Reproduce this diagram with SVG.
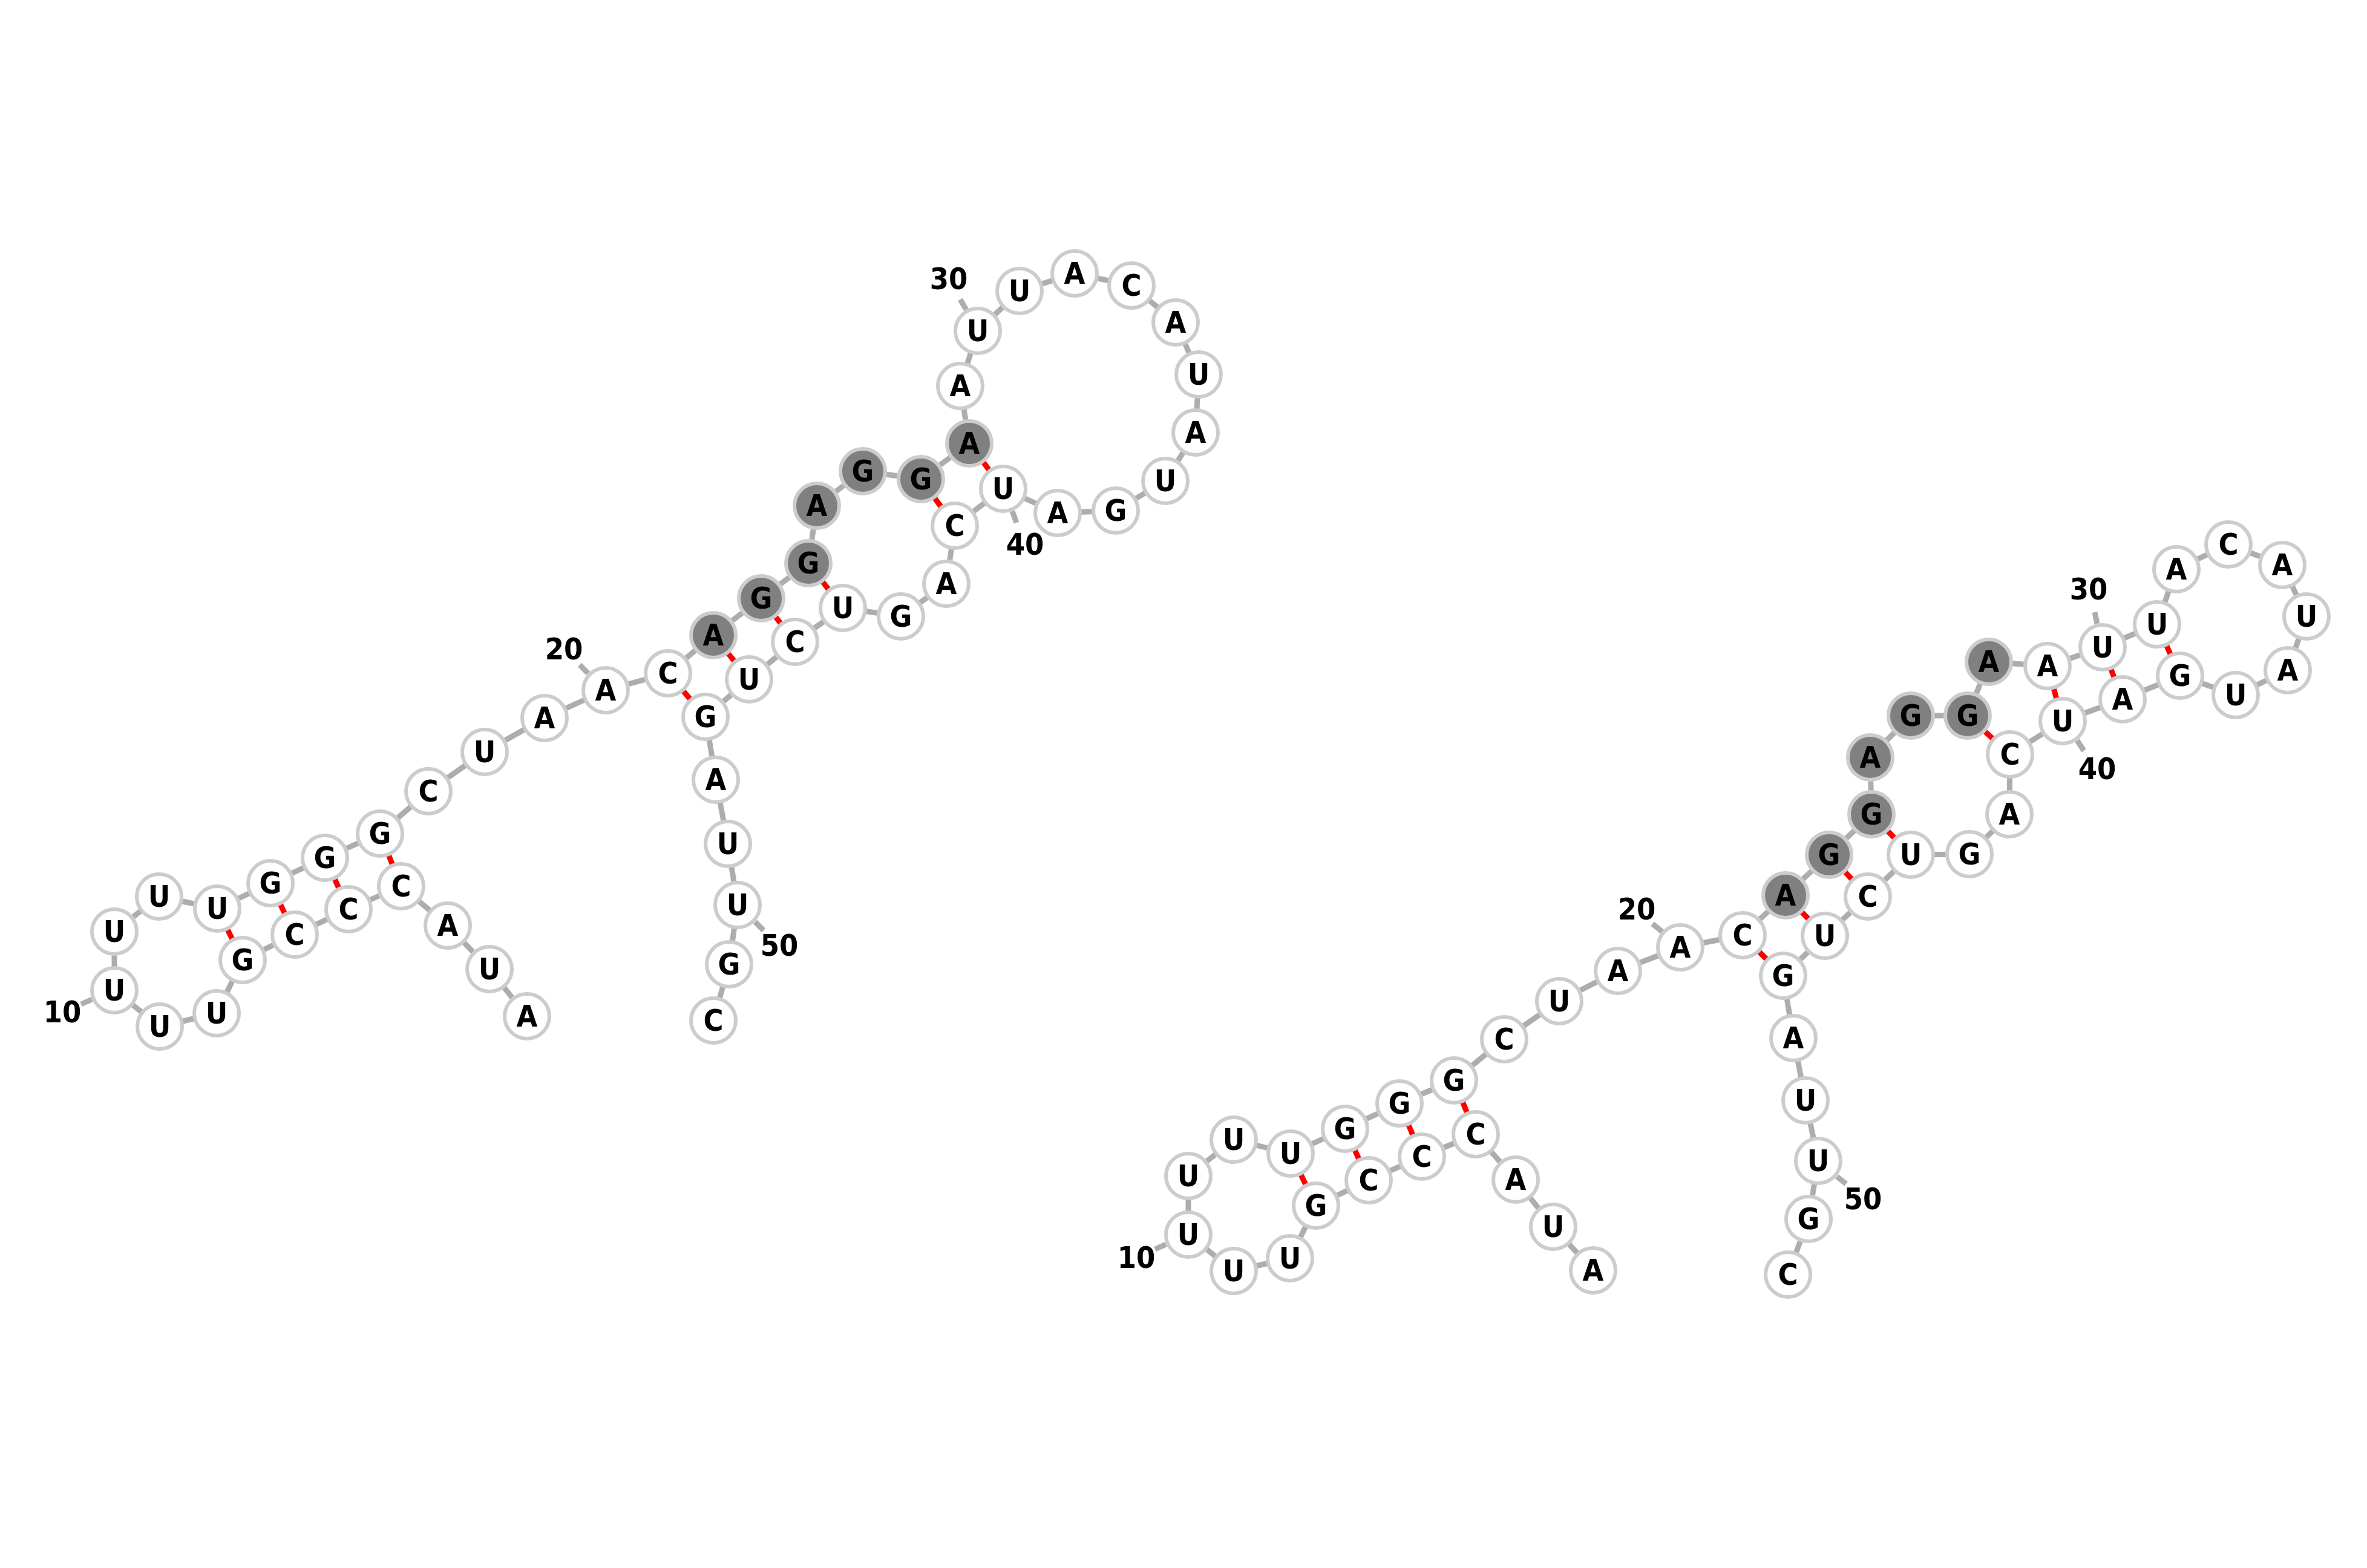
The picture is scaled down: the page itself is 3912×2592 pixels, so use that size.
<svg xmlns="http://www.w3.org/2000/svg" width="3912" height="2592" viewBox="0 0 3912 2592">
<style>
.bb{stroke:#adadad;stroke-width:9}
.pr{stroke:#ff0000;stroke-width:9}
.tk{stroke:#adadad;stroke-width:9}
.n circle{fill:#ffffff;stroke:#cccccc;stroke-width:6}
.n.d circle{fill:#808080}
text{font-family:"DejaVu Sans Condensed","DejaVu Sans","Liberation Sans",sans-serif;font-stretch:condensed;font-weight:bold;font-size:50px;text-anchor:middle;fill:#000000}
</style>
<rect width="3912" height="2592" fill="#ffffff"/>
<g id="connectors">
<line class="bb" x1="871" y1="1680" x2="809" y2="1602"/>
<line class="bb" x1="809" y1="1602" x2="740" y2="1530"/>
<line class="bb" x1="740" y1="1530" x2="663" y2="1465"/>
<line class="bb" x1="663" y1="1465" x2="576" y2="1503"/>
<line class="bb" x1="576" y1="1503" x2="487" y2="1545"/>
<line class="bb" x1="487" y1="1545" x2="401" y2="1587"/>
<line class="bb" x1="401" y1="1587" x2="358" y2="1675"/>
<line class="bb" x1="358" y1="1675" x2="264" y2="1697"/>
<line class="bb" x1="264" y1="1697" x2="189" y2="1637"/>
<line class="bb" x1="189" y1="1637" x2="189" y2="1540"/>
<line class="bb" x1="189" y1="1540" x2="263" y2="1482"/>
<line class="bb" x1="263" y1="1482" x2="359" y2="1502"/>
<line class="bb" x1="359" y1="1502" x2="447" y2="1460"/>
<line class="bb" x1="447" y1="1460" x2="537" y2="1418"/>
<line class="bb" x1="537" y1="1418" x2="628" y2="1378"/>
<line class="bb" x1="628" y1="1378" x2="708" y2="1308"/>
<line class="bb" x1="708" y1="1308" x2="801" y2="1243"/>
<line class="bb" x1="801" y1="1243" x2="900" y2="1187"/>
<line class="bb" x1="900" y1="1187" x2="1001" y2="1141"/>
<line class="bb" x1="1001" y1="1141" x2="1104" y2="1113"/>
<line class="bb" x1="1104" y1="1113" x2="1179" y2="1050"/>
<line class="bb" x1="1179" y1="1050" x2="1258" y2="989"/>
<line class="bb" x1="1258" y1="989" x2="1336" y2="931"/>
<line class="bb" x1="1336" y1="931" x2="1350" y2="836"/>
<line class="bb" x1="1350" y1="836" x2="1426" y2="779"/>
<line class="bb" x1="1426" y1="779" x2="1522" y2="792"/>
<line class="bb" x1="1522" y1="792" x2="1602" y2="733"/>
<line class="bb" x1="1602" y1="733" x2="1587" y2="638"/>
<line class="bb" x1="1587" y1="638" x2="1616" y2="547"/>
<line class="bb" x1="1616" y1="547" x2="1685" y2="481"/>
<line class="bb" x1="1685" y1="481" x2="1776" y2="452"/>
<line class="bb" x1="1776" y1="452" x2="1870" y2="472"/>
<line class="bb" x1="1870" y1="472" x2="1943" y2="533"/>
<line class="bb" x1="1943" y1="533" x2="1981" y2="619"/>
<line class="bb" x1="1981" y1="619" x2="1976" y2="715"/>
<line class="bb" x1="1976" y1="715" x2="1926" y2="795"/>
<line class="bb" x1="1926" y1="795" x2="1844" y2="844"/>
<line class="bb" x1="1844" y1="844" x2="1748" y2="848"/>
<line class="bb" x1="1748" y1="848" x2="1658" y2="808"/>
<line class="bb" x1="1658" y1="808" x2="1578" y2="869"/>
<line class="bb" x1="1578" y1="869" x2="1564" y2="965"/>
<line class="bb" x1="1564" y1="965" x2="1489" y2="1019"/>
<line class="bb" x1="1489" y1="1019" x2="1393" y2="1005"/>
<line class="bb" x1="1393" y1="1005" x2="1314" y2="1061"/>
<line class="bb" x1="1314" y1="1061" x2="1238" y2="1123"/>
<line class="bb" x1="1238" y1="1123" x2="1166" y2="1185"/>
<line class="bb" x1="1166" y1="1185" x2="1183" y2="1289"/>
<line class="bb" x1="1183" y1="1289" x2="1203" y2="1395"/>
<line class="bb" x1="1203" y1="1395" x2="1219" y2="1496"/>
<line class="bb" x1="1219" y1="1496" x2="1205" y2="1594"/>
<line class="bb" x1="1205" y1="1594" x2="1179" y2="1687"/>
<line class="pr" x1="663" y1="1465" x2="628" y2="1378"/>
<line class="pr" x1="576" y1="1503" x2="537" y2="1418"/>
<line class="pr" x1="487" y1="1545" x2="447" y2="1460"/>
<line class="pr" x1="401" y1="1587" x2="359" y2="1502"/>
<line class="pr" x1="1104" y1="1113" x2="1166" y2="1185"/>
<line class="pr" x1="1179" y1="1050" x2="1238" y2="1123"/>
<line class="pr" x1="1258" y1="989" x2="1314" y2="1061"/>
<line class="pr" x1="1336" y1="931" x2="1393" y2="1005"/>
<line class="pr" x1="1522" y1="792" x2="1578" y2="869"/>
<line class="pr" x1="1602" y1="733" x2="1658" y2="808"/>
<line class="bb" x1="2633" y1="2100" x2="2567" y2="2028"/>
<line class="bb" x1="2567" y1="2028" x2="2505" y2="1950"/>
<line class="bb" x1="2505" y1="1950" x2="2439" y2="1875"/>
<line class="bb" x1="2439" y1="1875" x2="2350" y2="1912"/>
<line class="bb" x1="2350" y1="1912" x2="2262" y2="1951"/>
<line class="bb" x1="2262" y1="1951" x2="2175" y2="1993"/>
<line class="bb" x1="2175" y1="1993" x2="2132" y2="2080"/>
<line class="bb" x1="2132" y1="2080" x2="2039" y2="2101"/>
<line class="bb" x1="2039" y1="2101" x2="1964" y2="2041"/>
<line class="bb" x1="1964" y1="2041" x2="1964" y2="1944"/>
<line class="bb" x1="1964" y1="1944" x2="2039" y2="1884"/>
<line class="bb" x1="2039" y1="1884" x2="2133" y2="1907"/>
<line class="bb" x1="2133" y1="1907" x2="2223" y2="1866"/>
<line class="bb" x1="2223" y1="1866" x2="2313" y2="1824"/>
<line class="bb" x1="2313" y1="1824" x2="2403" y2="1786"/>
<line class="bb" x1="2403" y1="1786" x2="2486" y2="1718"/>
<line class="bb" x1="2486" y1="1718" x2="2577" y2="1655"/>
<line class="bb" x1="2577" y1="1655" x2="2674" y2="1605"/>
<line class="bb" x1="2674" y1="1605" x2="2777" y2="1566"/>
<line class="bb" x1="2777" y1="1566" x2="2880" y2="1546"/>
<line class="bb" x1="2880" y1="1546" x2="2951" y2="1480"/>
<line class="bb" x1="2951" y1="1480" x2="3023" y2="1413"/>
<line class="bb" x1="3023" y1="1413" x2="3093" y2="1346"/>
<line class="bb" x1="3093" y1="1346" x2="3091" y2="1252"/>
<line class="bb" x1="3091" y1="1252" x2="3158" y2="1183"/>
<line class="bb" x1="3158" y1="1183" x2="3252" y2="1183"/>
<line class="bb" x1="3252" y1="1183" x2="3287" y2="1094"/>
<line class="bb" x1="3287" y1="1094" x2="3384" y2="1101"/>
<line class="bb" x1="3384" y1="1101" x2="3475" y2="1070"/>
<line class="bb" x1="3475" y1="1070" x2="3565" y2="1032"/>
<line class="bb" x1="3565" y1="1032" x2="3597" y2="941"/>
<line class="bb" x1="3597" y1="941" x2="3683" y2="900"/>
<line class="bb" x1="3683" y1="900" x2="3772" y2="934"/>
<line class="bb" x1="3772" y1="934" x2="3812" y2="1019"/>
<line class="bb" x1="3812" y1="1019" x2="3781" y2="1108"/>
<line class="bb" x1="3781" y1="1108" x2="3695" y2="1149"/>
<line class="bb" x1="3695" y1="1149" x2="3603" y2="1117"/>
<line class="bb" x1="3603" y1="1117" x2="3508" y2="1156"/>
<line class="bb" x1="3508" y1="1156" x2="3409" y2="1192"/>
<line class="bb" x1="3409" y1="1192" x2="3322" y2="1247"/>
<line class="bb" x1="3322" y1="1247" x2="3321" y2="1346"/>
<line class="bb" x1="3321" y1="1346" x2="3255" y2="1412"/>
<line class="bb" x1="3255" y1="1412" x2="3158" y2="1413"/>
<line class="bb" x1="3158" y1="1413" x2="3087" y2="1482"/>
<line class="bb" x1="3087" y1="1482" x2="3016" y2="1547"/>
<line class="bb" x1="3016" y1="1547" x2="2947" y2="1613"/>
<line class="bb" x1="2947" y1="1613" x2="2964" y2="1716"/>
<line class="bb" x1="2964" y1="1716" x2="2984" y2="1819"/>
<line class="bb" x1="2984" y1="1819" x2="3005" y2="1919"/>
<line class="bb" x1="3005" y1="1919" x2="2989" y2="2015"/>
<line class="bb" x1="2989" y1="2015" x2="2955" y2="2107"/>
<line class="pr" x1="2439" y1="1875" x2="2403" y2="1786"/>
<line class="pr" x1="2350" y1="1912" x2="2313" y2="1824"/>
<line class="pr" x1="2262" y1="1951" x2="2223" y2="1866"/>
<line class="pr" x1="2175" y1="1993" x2="2133" y2="1907"/>
<line class="pr" x1="2880" y1="1546" x2="2947" y2="1613"/>
<line class="pr" x1="2951" y1="1480" x2="3016" y2="1547"/>
<line class="pr" x1="3023" y1="1413" x2="3087" y2="1482"/>
<line class="pr" x1="3093" y1="1346" x2="3158" y2="1413"/>
<line class="pr" x1="3252" y1="1183" x2="3322" y2="1247"/>
<line class="pr" x1="3384" y1="1101" x2="3409" y2="1192"/>
<line class="pr" x1="3475" y1="1070" x2="3508" y2="1156"/>
<line class="pr" x1="3565" y1="1032" x2="3603" y2="1117"/>
</g>
<g id="labels">
<line class="tk" x1="152" y1="1652" x2="134" y2="1660"/>
<text x="103" y="1690">10</text>
<line class="tk" x1="972" y1="1113" x2="958" y2="1099"/>
<text x="932" y="1090">20</text>
<line class="tk" x1="1597" y1="512" x2="1587" y2="495"/>
<text x="1568" y="478">30</text>
<line class="tk" x1="1673" y1="845" x2="1680" y2="864"/>
<text x="1694" y="917">40</text>
<line class="tk" x1="1248" y1="1524" x2="1262" y2="1538"/>
<text x="1288" y="1580">50</text>
<line class="tk" x1="1927" y1="2057" x2="1909" y2="2065"/>
<text x="1878" y="2096">10</text>
<line class="tk" x1="2747" y1="1540" x2="2731" y2="1527"/>
<text x="2705" y="1520">20</text>
<line class="tk" x1="3466" y1="1031" x2="3462" y2="1012"/>
<text x="3452" y="991">30</text>
<line class="tk" x1="3433" y1="1224" x2="3444" y2="1241"/>
<text x="3466" y="1288">40</text>
<line class="tk" x1="3036" y1="1945" x2="3051" y2="1957"/>
<text x="3079" y="1999">50</text>
</g>
<g id="L1" class="n"><circle cx="871" cy="1680" r="37"/><text x="871" y="1697">A</text></g>
<g id="L2" class="n"><circle cx="809" cy="1602" r="37"/><text x="809" y="1619">U</text></g>
<g id="L3" class="n"><circle cx="740" cy="1530" r="37"/><text x="740" y="1547">A</text></g>
<g id="L4" class="n"><circle cx="663" cy="1465" r="37"/><text x="663" y="1482">C</text></g>
<g id="L5" class="n"><circle cx="576" cy="1503" r="37"/><text x="576" y="1520">C</text></g>
<g id="L6" class="n"><circle cx="487" cy="1545" r="37"/><text x="487" y="1562">C</text></g>
<g id="L7" class="n"><circle cx="401" cy="1587" r="37"/><text x="401" y="1604">G</text></g>
<g id="L8" class="n"><circle cx="358" cy="1675" r="37"/><text x="358" y="1692">U</text></g>
<g id="L9" class="n"><circle cx="264" cy="1697" r="37"/><text x="264" y="1714">U</text></g>
<g id="L10" class="n"><circle cx="189" cy="1637" r="37"/><text x="189" y="1654">U</text></g>
<g id="L11" class="n"><circle cx="189" cy="1540" r="37"/><text x="189" y="1557">U</text></g>
<g id="L12" class="n"><circle cx="263" cy="1482" r="37"/><text x="263" y="1499">U</text></g>
<g id="L13" class="n"><circle cx="359" cy="1502" r="37"/><text x="359" y="1519">U</text></g>
<g id="L14" class="n"><circle cx="447" cy="1460" r="37"/><text x="447" y="1477">G</text></g>
<g id="L15" class="n"><circle cx="537" cy="1418" r="37"/><text x="537" y="1435">G</text></g>
<g id="L16" class="n"><circle cx="628" cy="1378" r="37"/><text x="628" y="1395">G</text></g>
<g id="L17" class="n"><circle cx="708" cy="1308" r="37"/><text x="708" y="1325">C</text></g>
<g id="L18" class="n"><circle cx="801" cy="1243" r="37"/><text x="801" y="1260">U</text></g>
<g id="L19" class="n"><circle cx="900" cy="1187" r="37"/><text x="900" y="1204">A</text></g>
<g id="L20" class="n"><circle cx="1001" cy="1141" r="37"/><text x="1001" y="1158">A</text></g>
<g id="L21" class="n"><circle cx="1104" cy="1113" r="37"/><text x="1104" y="1130">C</text></g>
<g id="L22" class="n d"><circle cx="1179" cy="1050" r="37"/><text x="1179" y="1067">A</text></g>
<g id="L23" class="n d"><circle cx="1258" cy="989" r="37"/><text x="1258" y="1006">G</text></g>
<g id="L24" class="n d"><circle cx="1336" cy="931" r="37"/><text x="1336" y="948">G</text></g>
<g id="L25" class="n d"><circle cx="1350" cy="836" r="37"/><text x="1350" y="853">A</text></g>
<g id="L26" class="n d"><circle cx="1426" cy="779" r="37"/><text x="1426" y="796">G</text></g>
<g id="L27" class="n d"><circle cx="1522" cy="792" r="37"/><text x="1522" y="809">G</text></g>
<g id="L28" class="n d"><circle cx="1602" cy="733" r="37"/><text x="1602" y="750">A</text></g>
<g id="L29" class="n"><circle cx="1587" cy="638" r="37"/><text x="1587" y="655">A</text></g>
<g id="L30" class="n"><circle cx="1616" cy="547" r="37"/><text x="1616" y="564">U</text></g>
<g id="L31" class="n"><circle cx="1685" cy="481" r="37"/><text x="1685" y="498">U</text></g>
<g id="L32" class="n"><circle cx="1776" cy="452" r="37"/><text x="1776" y="469">A</text></g>
<g id="L33" class="n"><circle cx="1870" cy="472" r="37"/><text x="1870" y="489">C</text></g>
<g id="L34" class="n"><circle cx="1943" cy="533" r="37"/><text x="1943" y="550">A</text></g>
<g id="L35" class="n"><circle cx="1981" cy="619" r="37"/><text x="1981" y="636">U</text></g>
<g id="L36" class="n"><circle cx="1976" cy="715" r="37"/><text x="1976" y="732">A</text></g>
<g id="L37" class="n"><circle cx="1926" cy="795" r="37"/><text x="1926" y="812">U</text></g>
<g id="L38" class="n"><circle cx="1844" cy="844" r="37"/><text x="1844" y="861">G</text></g>
<g id="L39" class="n"><circle cx="1748" cy="848" r="37"/><text x="1748" y="865">A</text></g>
<g id="L40" class="n"><circle cx="1658" cy="808" r="37"/><text x="1658" y="825">U</text></g>
<g id="L41" class="n"><circle cx="1578" cy="869" r="37"/><text x="1578" y="886">C</text></g>
<g id="L42" class="n"><circle cx="1564" cy="965" r="37"/><text x="1564" y="982">A</text></g>
<g id="L43" class="n"><circle cx="1489" cy="1019" r="37"/><text x="1489" y="1036">G</text></g>
<g id="L44" class="n"><circle cx="1393" cy="1005" r="37"/><text x="1393" y="1022">U</text></g>
<g id="L45" class="n"><circle cx="1314" cy="1061" r="37"/><text x="1314" y="1078">C</text></g>
<g id="L46" class="n"><circle cx="1238" cy="1123" r="37"/><text x="1238" y="1140">U</text></g>
<g id="L47" class="n"><circle cx="1166" cy="1185" r="37"/><text x="1166" y="1202">G</text></g>
<g id="L48" class="n"><circle cx="1183" cy="1289" r="37"/><text x="1183" y="1306">A</text></g>
<g id="L49" class="n"><circle cx="1203" cy="1395" r="37"/><text x="1203" y="1412">U</text></g>
<g id="L50" class="n"><circle cx="1219" cy="1496" r="37"/><text x="1219" y="1513">U</text></g>
<g id="L51" class="n"><circle cx="1205" cy="1594" r="37"/><text x="1205" y="1611">G</text></g>
<g id="L52" class="n"><circle cx="1179" cy="1687" r="37"/><text x="1179" y="1704">C</text></g>
<g id="R1" class="n"><circle cx="2633" cy="2100" r="37"/><text x="2633" y="2117">A</text></g>
<g id="R2" class="n"><circle cx="2567" cy="2028" r="37"/><text x="2567" y="2045">U</text></g>
<g id="R3" class="n"><circle cx="2505" cy="1950" r="37"/><text x="2505" y="1967">A</text></g>
<g id="R4" class="n"><circle cx="2439" cy="1875" r="37"/><text x="2439" y="1892">C</text></g>
<g id="R5" class="n"><circle cx="2350" cy="1912" r="37"/><text x="2350" y="1929">C</text></g>
<g id="R6" class="n"><circle cx="2262" cy="1951" r="37"/><text x="2262" y="1968">C</text></g>
<g id="R7" class="n"><circle cx="2175" cy="1993" r="37"/><text x="2175" y="2010">G</text></g>
<g id="R8" class="n"><circle cx="2132" cy="2080" r="37"/><text x="2132" y="2097">U</text></g>
<g id="R9" class="n"><circle cx="2039" cy="2101" r="37"/><text x="2039" y="2118">U</text></g>
<g id="R10" class="n"><circle cx="1964" cy="2041" r="37"/><text x="1964" y="2058">U</text></g>
<g id="R11" class="n"><circle cx="1964" cy="1944" r="37"/><text x="1964" y="1961">U</text></g>
<g id="R12" class="n"><circle cx="2039" cy="1884" r="37"/><text x="2039" y="1901">U</text></g>
<g id="R13" class="n"><circle cx="2133" cy="1907" r="37"/><text x="2133" y="1924">U</text></g>
<g id="R14" class="n"><circle cx="2223" cy="1866" r="37"/><text x="2223" y="1883">G</text></g>
<g id="R15" class="n"><circle cx="2313" cy="1824" r="37"/><text x="2313" y="1841">G</text></g>
<g id="R16" class="n"><circle cx="2403" cy="1786" r="37"/><text x="2403" y="1803">G</text></g>
<g id="R17" class="n"><circle cx="2486" cy="1718" r="37"/><text x="2486" y="1735">C</text></g>
<g id="R18" class="n"><circle cx="2577" cy="1655" r="37"/><text x="2577" y="1672">U</text></g>
<g id="R19" class="n"><circle cx="2674" cy="1605" r="37"/><text x="2674" y="1622">A</text></g>
<g id="R20" class="n"><circle cx="2777" cy="1566" r="37"/><text x="2777" y="1583">A</text></g>
<g id="R21" class="n"><circle cx="2880" cy="1546" r="37"/><text x="2880" y="1563">C</text></g>
<g id="R22" class="n d"><circle cx="2951" cy="1480" r="37"/><text x="2951" y="1497">A</text></g>
<g id="R23" class="n d"><circle cx="3023" cy="1413" r="37"/><text x="3023" y="1430">G</text></g>
<g id="R24" class="n d"><circle cx="3093" cy="1346" r="37"/><text x="3093" y="1363">G</text></g>
<g id="R25" class="n d"><circle cx="3091" cy="1252" r="37"/><text x="3091" y="1269">A</text></g>
<g id="R26" class="n d"><circle cx="3158" cy="1183" r="37"/><text x="3158" y="1200">G</text></g>
<g id="R27" class="n d"><circle cx="3252" cy="1183" r="37"/><text x="3252" y="1200">G</text></g>
<g id="R28" class="n d"><circle cx="3287" cy="1094" r="37"/><text x="3287" y="1111">A</text></g>
<g id="R29" class="n"><circle cx="3384" cy="1101" r="37"/><text x="3384" y="1118">A</text></g>
<g id="R30" class="n"><circle cx="3475" cy="1070" r="37"/><text x="3475" y="1087">U</text></g>
<g id="R31" class="n"><circle cx="3565" cy="1032" r="37"/><text x="3565" y="1049">U</text></g>
<g id="R32" class="n"><circle cx="3597" cy="941" r="37"/><text x="3597" y="958">A</text></g>
<g id="R33" class="n"><circle cx="3683" cy="900" r="37"/><text x="3683" y="917">C</text></g>
<g id="R34" class="n"><circle cx="3772" cy="934" r="37"/><text x="3772" y="951">A</text></g>
<g id="R35" class="n"><circle cx="3812" cy="1019" r="37"/><text x="3812" y="1036">U</text></g>
<g id="R36" class="n"><circle cx="3781" cy="1108" r="37"/><text x="3781" y="1125">A</text></g>
<g id="R37" class="n"><circle cx="3695" cy="1149" r="37"/><text x="3695" y="1166">U</text></g>
<g id="R38" class="n"><circle cx="3603" cy="1117" r="37"/><text x="3603" y="1134">G</text></g>
<g id="R39" class="n"><circle cx="3508" cy="1156" r="37"/><text x="3508" y="1173">A</text></g>
<g id="R40" class="n"><circle cx="3409" cy="1192" r="37"/><text x="3409" y="1209">U</text></g>
<g id="R41" class="n"><circle cx="3322" cy="1247" r="37"/><text x="3322" y="1264">C</text></g>
<g id="R42" class="n"><circle cx="3321" cy="1346" r="37"/><text x="3321" y="1363">A</text></g>
<g id="R43" class="n"><circle cx="3255" cy="1412" r="37"/><text x="3255" y="1429">G</text></g>
<g id="R44" class="n"><circle cx="3158" cy="1413" r="37"/><text x="3158" y="1430">U</text></g>
<g id="R45" class="n"><circle cx="3087" cy="1482" r="37"/><text x="3087" y="1499">C</text></g>
<g id="R46" class="n"><circle cx="3016" cy="1547" r="37"/><text x="3016" y="1564">U</text></g>
<g id="R47" class="n"><circle cx="2947" cy="1613" r="37"/><text x="2947" y="1630">G</text></g>
<g id="R48" class="n"><circle cx="2964" cy="1716" r="37"/><text x="2964" y="1733">A</text></g>
<g id="R49" class="n"><circle cx="2984" cy="1819" r="37"/><text x="2984" y="1836">U</text></g>
<g id="R50" class="n"><circle cx="3005" cy="1919" r="37"/><text x="3005" y="1936">U</text></g>
<g id="R51" class="n"><circle cx="2989" cy="2015" r="37"/><text x="2989" y="2032">G</text></g>
<g id="R52" class="n"><circle cx="2955" cy="2107" r="37"/><text x="2955" y="2124">C</text></g>
</svg>
